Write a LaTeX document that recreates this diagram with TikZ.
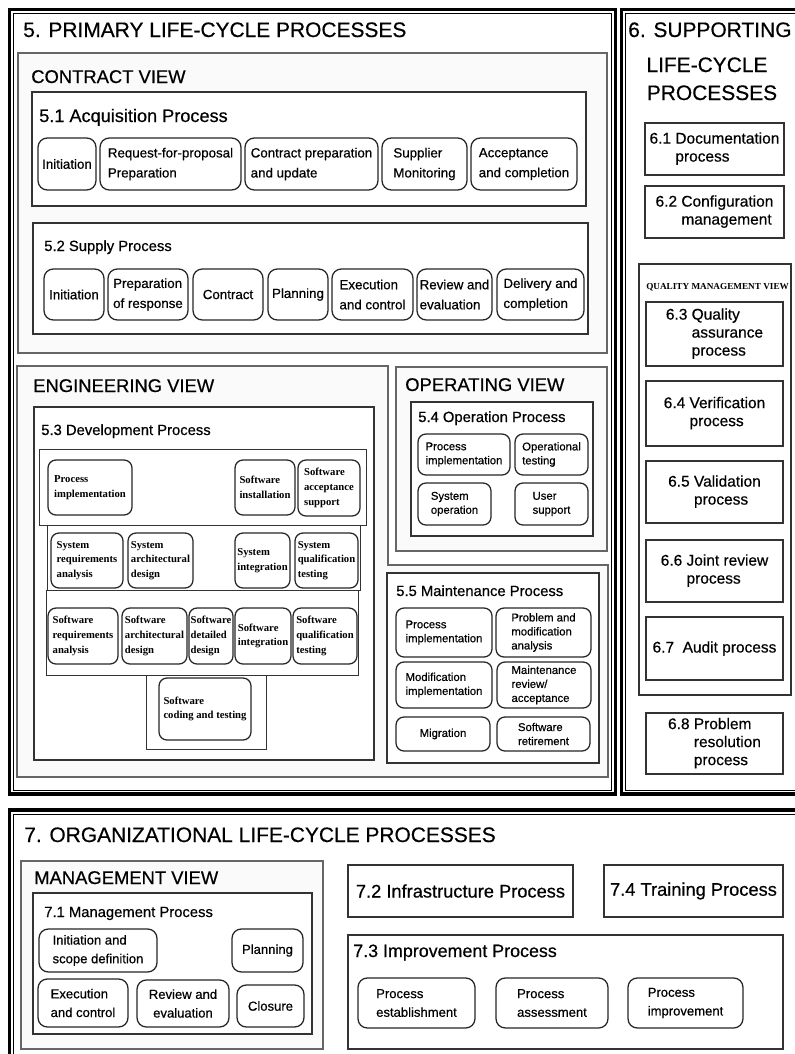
\documentclass[tikz,border=0pt]{standalone}
\usepackage{fontspec}
\setmainfont{Liberation Sans}[FakeBold=0.5]
\newfontfamily\devfont{Liberation Serif}
\usetikzlibrary{fit}
\tikzset{boxat/.style n args={4}{minimum width={(#3-#1)*0.75pt}, minimum height={(#4-#2)*0.75pt}, at={({(#1+#3)/2},{(#2+#4)/2})}}}
\tikzstyle{frame} = [rectangle, draw=black, line width=2.4pt, inner sep=0pt, outer sep=0pt]
\tikzstyle{frameline} = [draw=black, line width=0.7pt]
\tikzstyle{view} = [rectangle, draw=black!60, line width=1.1pt, fill=black!2, inner sep=0pt, outer sep=0pt]
\tikzstyle{procbox} = [rectangle, draw=black!80, line width=0.9pt, fill=white, inner sep=0pt, outer sep=0pt]
\tikzstyle{activity} = [rectangle, rounded corners=7pt, draw=black!85, line width=0.95pt, fill=white, inner sep=0pt, align=left, font=\fontsize{10}{15}\selectfont]
\tikzstyle{devact} = [activity, rounded corners=6pt, font=\devfont\bfseries\fontsize{8}{11}\selectfont]
\tikzstyle{opact} = [activity, rounded corners=6pt, font=\fontsize{8.5}{10.5}\selectfont]
\tikzstyle{orgact} = [activity, font=\fontsize{9.8}{14}\selectfont]
\tikzstyle{supbox} = [procbox, font=\fontsize{11.6}{13.5}\selectfont]
\tikzstyle{bigbox} = [procbox, font=\fontsize{13.7}{16}\selectfont]
\tikzstyle{maintitle} = [anchor=base west, inner sep=0pt, font=\fontsize{15.7}{19}\selectfont]
\tikzstyle{viewtitle} = [anchor=base west, inner sep=0pt, font=\fontsize{13.8}{16}\selectfont]
\tikzstyle{proctitle} = [anchor=base west, inner sep=0pt, font=\fontsize{11.1}{13}\selectfont]
\begin{document}
\begin{tikzpicture}[x=0.75pt, y=-0.75pt]
\useasboundingbox (0,0) rectangle (795,1054);

% Frames
\node[frame, fit={(9.5,9.5) (615.5,794)}] (primary) {};
\draw[frameline] ([shift={(4,4)}]primary.north west) rectangle ([shift={(-4,-4)}]primary.south east);
\node[frame, fit={(621.5,9.5) (801,794)}] (supporting) {};
\draw[frameline] ([shift={(4,4)}]supporting.north west) rectangle ([shift={(-4,-4)}]supporting.south east);
\node[frame, fit={(9.5,810) (801,1058)}] (organizational) {};
\draw[frameline] ([shift={(4,4)}]organizational.north west) rectangle ([shift={(-4,-4)}]organizational.south east);

\node[maintitle] (primtitle) at (23,37) {5. PRIMARY LIFE-CYCLE PROCESSES};

% Contract view
\node[view, boxat={18}{53}{607}{353}] (contract) {};
\node[viewtitle] (contracttitle) at (31,83) {CONTRACT VIEW};

\node[procbox, boxat={32}{92}{586}{206}] (acq) {};
\node[proctitle, font=\fontsize{13.6}{16}\selectfont] (acqtitle) at (39,122) {5.1 Acquisition Process};
\node[activity, boxat={38}{138}{96}{190}] (aIni) {Initiation};
\node[activity, boxat={100}{138}{241}{190}] (aRfp) {Request-for-proposal\\Preparation};
\node[activity, boxat={245}{138}{378}{190}] (aCon) {Contract preparation\\and update};
\node[activity, boxat={382}{138}{467}{190}] (aSup) {Supplier\\Monitoring};
\node[activity, boxat={471}{138}{577}{190}] (aAcc) {Acceptance\\and completion};

\node[procbox, boxat={33}{223}{588}{334}] (sup) {};
\node[proctitle] (suptitle) at (44,251) {5.2 Supply Process};
\node[activity, boxat={44}{269}{104}{320}] (sIni) {Initiation};
\node[activity, boxat={108}{269}{188}{320}] (sPre) {Preparation\\of response};
\node[activity, boxat={193}{269}{263}{320}] (sCon) {Contract};
\node[activity, boxat={268}{269}{328}{320}] (sPla) {Planning};
\node[activity, boxat={332}{269}{413}{320}] (sExe) {Execution\\and control};
\node[activity, boxat={417}{269}{492}{320}] (sRev) {Review and\\evaluation};
\node[activity, boxat={497}{269}{584}{320}] (sDel) {Delivery and\\completion};

% Engineering view
\draw[view] (17,366) -- (388,366) -- (388,565) -- (608,565) -- (608,777) -- (17,777) -- cycle;
\node[viewtitle] (engtitle) at (33,392) {ENGINEERING VIEW};

\node[procbox, boxat={34}{407}{374}{760}] (dev) {};
\node[proctitle] (devtitle) at (41,435) {5.3 Development Process};
\node[procbox, line width=0.7pt, boxat={39}{449}{366}{525}] (row1) {};
\node[procbox, line width=0.7pt, boxat={47}{525}{360}{590}] (row2) {};
\node[procbox, line width=0.7pt, boxat={46}{590}{358}{675}] (row3) {};
\node[procbox, line width=0.7pt, boxat={146}{675}{266}{749}] (row4) {};
\node[devact, boxat={48}{460}{132}{515}] (dPim) {Process\\implementation};
\node[devact, boxat={235}{460}{295}{515}] (dSin) {Software\\installation};
\node[devact, boxat={298}{460}{360}{516}] (dSac) {Software\\acceptance\\support};
\node[devact, boxat={51}{533}{123}{588}] (dSra) {System\\requirements\\analysis};
\node[devact, boxat={128}{533}{193}{588}] (dSad) {System\\architectural\\design};
\node[devact, boxat={235}{533}{290}{588}] (dSit) {System\\integration};
\node[devact, boxat={295}{533}{358}{588}] (dSqt) {System\\qualification\\testing};
\node[devact, boxat={48}{608}{118}{664}] (dSwr) {Software\\requirements\\analysis};
\node[devact, boxat={122}{608}{187}{664}] (dSwa) {Software\\architectural\\design};
\node[devact, boxat={189}{608}{233}{664}] (dSwd) {Software\\detailed\\design};
\node[devact, boxat={235}{608}{291}{664}] (dSwi) {Software\\integration};
\node[devact, boxat={293}{608}{357}{664}] (dSwq) {Software\\qualification\\testing};
\node[devact, boxat={159}{678}{251}{740}] (dCod) {Software\\coding and testing};

\node[procbox, boxat={387}{573}{599}{763}] (maint) {};
\node[proctitle] (mainttitle) at (396,596) {5.5 Maintenance Process};
\node[opact, boxat={396}{608}{492}{657}] (mPim) {Process\\implementation};
\node[opact, boxat={496}{608}{591}{657}] (mPma) {Problem and\\modification\\analysis};
\node[opact, boxat={396}{662}{492}{708}] (mMim) {Modification\\implementation};
\node[opact, boxat={497}{662}{591}{708}] (mMra) {Maintenance\\review/\\acceptance};
\node[opact, boxat={396}{717}{490}{751}] (mMig) {Migration};
\node[opact, boxat={497}{717}{590}{751}] (mSre) {Software\\retirement};

% Operating view
\node[view, boxat={396}{367}{607}{551}] (operating) {};
\node[viewtitle] (optitle) at (405,391) {OPERATING VIEW};
\node[procbox, boxat={411}{402}{593}{536}] (oper) {};
\node[proctitle] (opertitle) at (418,422) {5.4 Operation Process};
\node[opact, boxat={418}{434}{510}{475}] (oPim) {Process\\implementation};
\node[opact, boxat={515}{434}{588}{475}] (oOpt) {Operational\\testing};
\node[opact, boxat={418}{483}{491}{525}] (oSop) {System\\operation};
\node[opact, boxat={515}{483}{588}{525}] (oUsr) {User\\support};

% Supporting processes
\node[maintitle] (suptitle1) at (628,37) {6. SUPPORTING};
\node[maintitle, anchor=base] (suptitle2) at (707,72) {LIFE-CYCLE};
\node[maintitle, anchor=base] (suptitle3) at (712,100) {PROCESSES};
\node[supbox, boxat={645}{123}{784}{175}] (s61) {\begin{tabular}{@{}l@{\ }l@{}}6.1 & Documentation\\ & process\end{tabular}};
\node[supbox, boxat={645}{186}{784}{238}] (s62) {\begin{tabular}{@{}l@{\ }l@{}}6.2 & Configuration\\ & management\end{tabular}};
\node[procbox, line width=0.8pt, fill=none, boxat={639}{264}{791}{695}] (quality) {};
\node[anchor=base west, inner sep=0pt, font=\devfont\bfseries\fontsize{6.9}{8}\selectfont] (qualtitle) at (646,289) {QUALITY MANAGEMENT VIEW};
\node[supbox, boxat={646}{302}{783}{366}] (s63) {\begin{tabular}{@{}l@{\ }l@{}}6.3 & Quality\\ & assurance\\ & process\end{tabular}};
\node[supbox, boxat={646}{381}{783}{446}] (s64) {\begin{tabular}{@{}l@{\ }l@{}}6.4 & Verification\\ & process\end{tabular}};
\node[supbox, boxat={646}{461}{783}{523}] (s65) {\begin{tabular}{@{}l@{\ }l@{}}6.5 & Validation\\ & process\end{tabular}};
\node[supbox, boxat={646}{540}{783}{602}] (s66) {\begin{tabular}{@{}l@{\ }l@{}}6.6 & Joint review\\ & process\end{tabular}};
\node[supbox, boxat={646}{617}{783}{680}] (s67) {6.7\ \ Audit process};
\node[supbox, boxat={646}{713}{783}{774}] (s68) {\begin{tabular}{@{}l@{\ }l@{}}6.8 & Problem\\ & resolution\\ & process\end{tabular}};

% Organizational processes
\node[maintitle] (orgtitle) at (24,842) {7. ORGANIZATIONAL LIFE-CYCLE PROCESSES};
\node[view, boxat={21}{861}{323}{1049}] (management) {};
\node[viewtitle] (mgmttitle) at (34,884) {MANAGEMENT VIEW};
\node[procbox, boxat={33}{893}{312}{1034}] (mgmt) {};
\node[proctitle] (mgmtproc) at (44,917) {7.1 Management Process};
\node[orgact, boxat={39}{929}{157}{972}] (gIni) {Initiation and\\scope definition};
\node[orgact, boxat={232}{929}{303}{972}] (gPla) {Planning};
\node[orgact, boxat={38}{979}{128}{1027}] (gExe) {Execution\\and control};
\node[orgact, align=center, boxat={137}{980}{229}{1027}] (gRev) {Review and\\evaluation};
\node[orgact, boxat={237}{985}{304}{1027}] (gClo) {Closure};

\node[bigbox, boxat={348}{865}{573}{917}] (infra) {7.2 Infrastructure Process};
\node[bigbox, boxat={604}{865}{783}{917}] (training) {7.4 Training Process};
\node[procbox, boxat={348}{935}{783}{1049}] (impr) {};
\node[proctitle, font=\fontsize{13.4}{16}\selectfont] (imprtitle) at (353,957) {7.3 Improvement Process};
\node[orgact, boxat={358}{978}{475}{1028}] (iEst) {Process\\establishment};
\node[orgact, boxat={496}{978}{608}{1028}] (iAss) {Process\\assessment};
\node[orgact, boxat={628}{978}{743}{1028}] (iImp) {Process\\improvement};

\end{tikzpicture}
\end{document}
